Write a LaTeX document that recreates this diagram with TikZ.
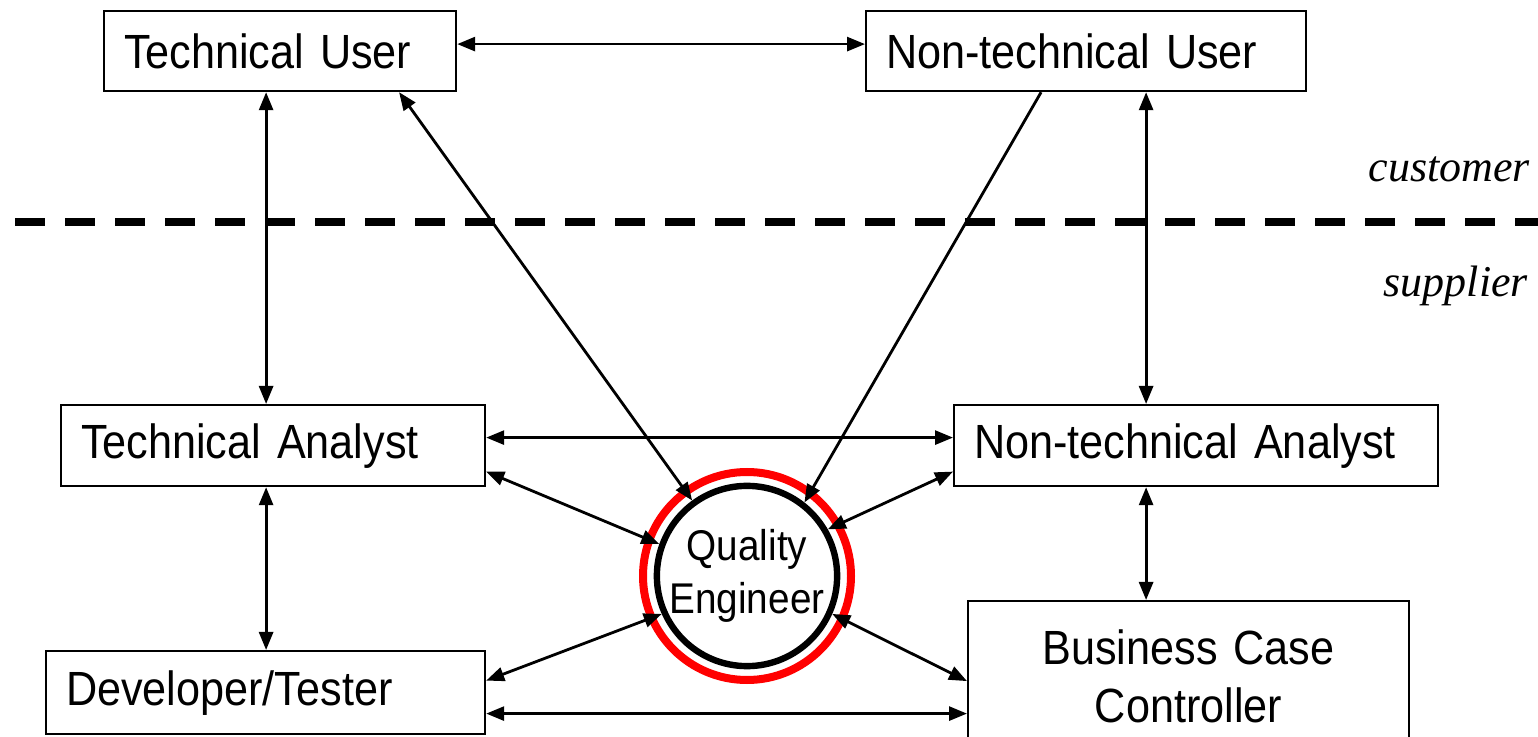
\documentclass[tikz,border=0pt]{standalone}
\usepackage{fontspec}
\setmainfont{Liberation Sans}[FakeStretch=0.9, WordSpace=0.7]
\newfontfamily\labelfont{Liberation Serif}
\usetikzlibrary{
    arrows.meta,
    positioning,
    calc
}
\tikzset{
    role/.style = {
        rectangle,
        draw,
        line width=1.1pt,
        anchor=north west,
        inner xsep=10pt,
        inner ysep=0pt,
        align=left,
        font=\fontsize{24}{29}\selectfont
    },
    link/.style = {
        {Triangle[length=9pt,width=7pt]}-{Triangle[length=9pt,width=7pt]},
        line width=1.4pt
    },
    oneway/.style = {
        -{Triangle[length=9pt,width=7pt]},
        line width=1.4pt
    },
    side/.style = {
        anchor=base east,
        font=\labelfont\itshape\fontsize{22}{26}\selectfont
    }
}

\begin{document}
\begin{tikzpicture}[x=0.5pt, y=-0.5pt]
\useasboundingbox (0,0) rectangle (1538,737);
\node[role, text width=156pt, minimum height=40pt] (tu) at (103,10) {Technical User};
\node[role, text width=200pt, minimum height=40pt] (ntu) at (865,10) {Non-technical User};
\node[role, text width=192pt, minimum height=40.5pt] (ta) at (60,404) {Technical Analyst};
\node[role, text width=222pt, minimum height=40.5pt] (nta) at (953,404) {Non-technical Analyst};
\node[role, text width=199.5pt, minimum height=41.5pt] (dt) at (45,650) {Developer/Tester};
\node[role, text width=200.5pt, minimum height=75pt, align=center] (bcc) at (967,600) {Business Case\\Controller};
\node[circle, draw=red, line width=4pt, minimum size=104pt] (ring) at (747,576) {};
\node[circle, draw, line width=3.2pt, minimum size=90pt, inner sep=0pt, align=center,
    font=\fontsize{21.5}{26.5}\selectfont] (qe) at (747,576) {Quality\\Engineer};
\draw[line width=4pt, dash pattern=on 15pt off 10pt] (15,222) -- (1545,222);
\node[side] (cust) at (1537,182) {customer};
\node[side] (supp) at (1535,297) {supplier};
\draw[link] ($(tu.east)+(0,-7)$) -- ($(ntu.west)+(0,-7)$);
\draw[link] ($(tu.south)+(-14,0)$) -- ($(ta.north)+(-7,0)$);
\draw[link] ($(ta.south)+(-7,0)$) -- ($(dt.north)+(0.5,0)$);
\draw[link] ($(ntu.south)+(60,0)$) -- ($(nta.north)+(-50,0)$);
\draw[link] ($(nta.south)+(-50,0)$) -- ($(bcc.north)+(-42.5,0)$);
\draw[link] ($(ta.east)+(0,-8)$) -- ($(nta.west)+(0,-8)$);
\draw[link] ($(dt.east)+(0,21)$) -- ($(bcc.west)+(0,37.5)$);
\draw[link] ($(tu.south)+(119,0)$) -- (qe.126);
\draw[oneway] ($(ntu.south)+(-45,0)$) -- (qe.52);
\draw[link] ($(ta.east)+(0,26)$) -- (qe.160);
\draw[link] ($(nta.west)+(0,26)$) -- (qe.30);
\draw[link] ($(dt.east)+(0,-12)$) -- (qe.204);
\draw[link] ($(bcc.west)+(0,5)$) -- (qe.336);
\end{tikzpicture}
\end{document}
